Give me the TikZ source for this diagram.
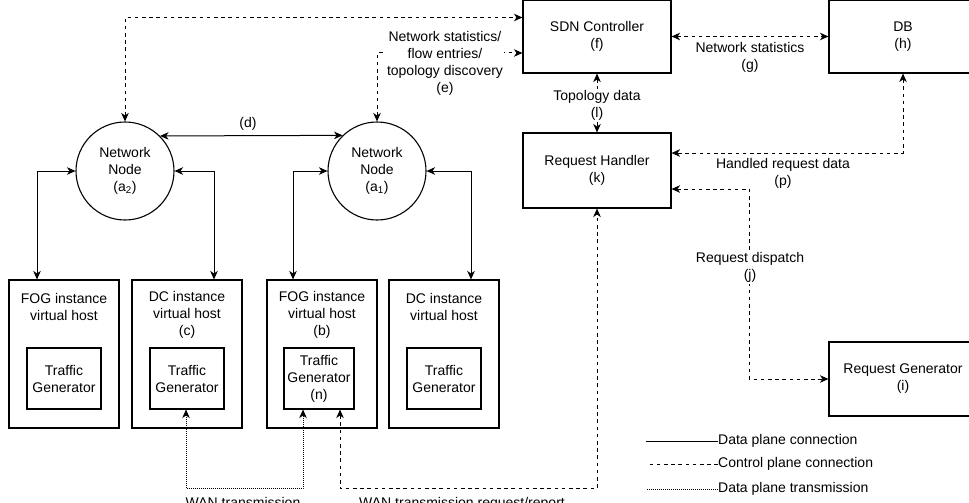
\documentclass[tikz,border=0pt]{standalone}
\usepackage{fontspec}
\setmainfont{Liberation Sans}
\usetikzlibrary{arrows.meta}
\begin{document}
\begin{tikzpicture}[x=1pt,y=-1pt,
  every node/.style={font=\fontsize{14}{17}\selectfont, align=center},
  box/.style={draw, line width=1.1pt, inner sep=0pt},
  nn/.style={draw, circle, line width=1.1pt, minimum size=98pt, inner sep=0pt},
  lbl/.style={fill=white, inner sep=1pt},
  conn/.style={line width=1pt},
  data/.style={conn},
  ctrl/.style={conn, dash pattern=on 3.6pt off 3.6pt},
  dots/.style={line width=0.9pt, dash pattern=on 1pt off 1pt},
  tips/.style={{Stealth[length=8.5pt,width=7.5pt,inset=2.5pt]}-{Stealth[length=8.5pt,width=7.5pt,inset=2.5pt]}}
]
\useasboundingbox (0,0) rectangle (969,503);
\clip (0,0) rectangle (969,503);

% network nodes
\node[nn] (a2) at (125,171) {Network\\Node\\(a\textsubscript{2})};
\node[nn] (a1) at (377,171) {Network\\Node\\(a\textsubscript{1})};

% hosts
\node[box, minimum width=110pt, minimum height=148pt] (fog1) at (64,354) {};
\node[box, minimum width=110pt, minimum height=148pt] (dc1) at (187,354) {};
\node[box, minimum width=110pt, minimum height=148pt] (fog2) at (322,354) {};
\node[box, minimum width=110pt, minimum height=148pt] (dc2) at (444,354) {};
\node (fog1t) at (64,306.5) {FOG instance\\virtual host};
\node (dc1t) at (187,315) {DC instance\\virtual host\\(c)};
\node (fog2t) at (322,315) {FOG instance\\virtual host\\(b)};
\node (dc2t) at (444,306.5) {DC instance\\virtual host};

% traffic generators
\node[box, minimum width=74pt, minimum height=61pt] (tg1) at (64,378.5) {Traffic\\Generator};
\node[box, minimum width=74pt, minimum height=61pt] (tg2) at (187,378.5) {Traffic\\Generator};
\node[box, minimum width=70pt, minimum height=61pt] (tg3) at (319,378.5) {Traffic\\Generator\\(n)};
\node[box, minimum width=74pt, minimum height=61pt] (tg4) at (444,378.5) {Traffic\\Generator};

% control side
\node[box, minimum width=148pt, minimum height=73pt] (sdn) at (597,36.5) {SDN Controller\\(f)};
\node[box, minimum width=148pt, minimum height=73pt] (db) at (903,36.5) {DB\\(h)};
\node[box, minimum width=148pt, minimum height=75pt] (rh) at (597,170.5) {Request Handler\\(k)};
\node[box, minimum width=148pt, minimum height=74pt] (rg) at (903,379) {Request Generator\\(i)};

% control connections to network nodes
\draw[ctrl,tips] (a2.north) |- ([yshift=19pt]sdn.west);
\draw[ctrl,tips] (a1.north) |- ([yshift=-16.5pt]sdn.west);
\node[lbl] (elbl) at (445,63) {Network statistics/\\flow entries/\\topology discovery\\(e)};

% data plane between nodes
\draw[data,tips] (a2.45.6) -- (a1.134.4);
\node (dlbl) at (248,124) {(d)};

\draw[data,tips] (a2.west) -| ([xshift=-27pt]fog1.north);
\draw[data,tips] (a2.east) -| ([xshift=27pt]dc1.north);
\draw[data,tips] (a1.west) -| ([xshift=-29pt]fog2.north);
\draw[data,tips] (a1.east) -| ([xshift=27pt]dc2.north);

% WAN
\draw[dots,tips] ([xshift=-1pt]tg2.south) -- ++(0,79) -| ([xshift=-16pt]tg3.south);
\draw[ctrl,tips] ([xshift=21pt]tg3.south) -- ++(0,79) -| (rh.south);
\node[anchor=base] (wan1) at (243,507.5) {WAN transmission};
\node[anchor=base] (wan2) at (462,507.5) {WAN transmission request/report};

% controller side connectors
\draw[ctrl,tips] (sdn.east) -- (db.west);
\node (glbl) at (750,57) {Network statistics\\(g)};

\draw[ctrl,tips] (sdn.south) -- (rh.north);
\node[lbl] (llbl) at (597,105) {Topology data\\(l)};

\draw[ctrl,tips] (db.south) |- ([yshift=17.5pt]rh.east);
\node (plbl) at (783,173.5) {Handled request data\\(p)};

\draw[ctrl,tips] ([yshift=-18.5pt]rh.east) -| ([xshift=-79pt]rg.west) -- (rg.west);
\node[lbl] (jlbl) at (750,267.5) {Request dispatch\\(j)};

% legend
\node[anchor=west, inner sep=0pt] (leg1) at (718,441) {Data plane connection};
\draw[data] (leg1.west) -- ++(-72,0);
\node[anchor=west, inner sep=0pt] (leg2) at (718,464) {Control plane connection};
\draw[ctrl] (leg2.west) -- ++(-72,0);
\node[anchor=west, inner sep=0pt] (leg3) at (718,489) {Data plane transmission};
\draw[dots] (leg3.west) -- ++(-72,0);
\end{tikzpicture}
\end{document}
